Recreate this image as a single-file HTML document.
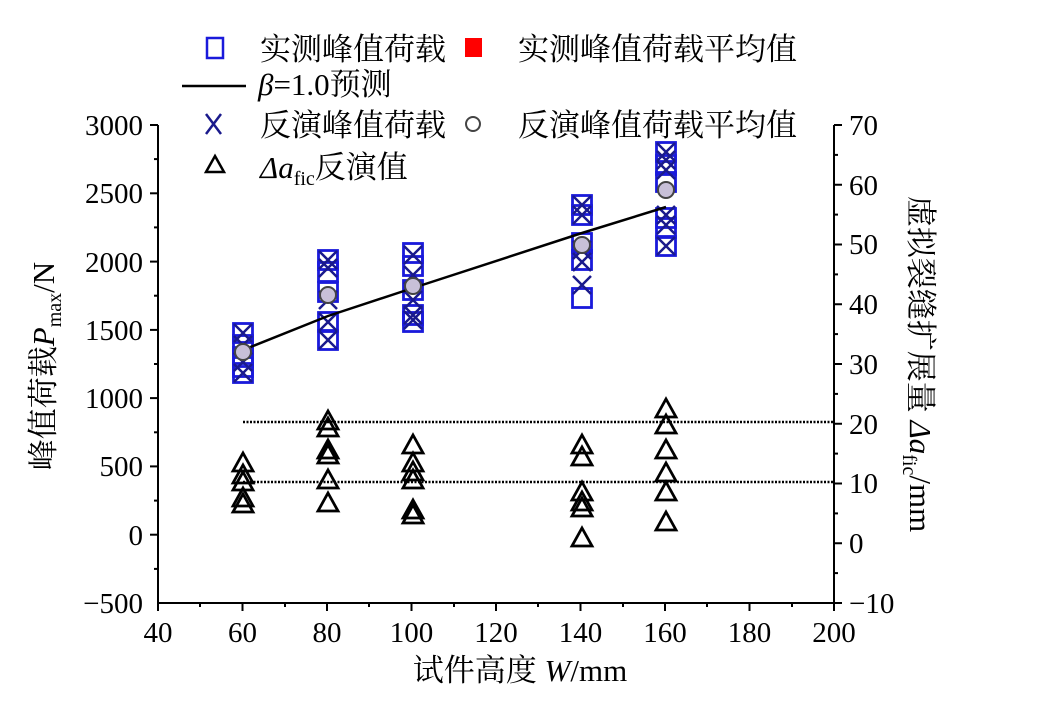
<!DOCTYPE html>
<html><head><meta charset="utf-8"><style>
html,body{margin:0;padding:0;background:#fff;}
svg text{font-family:"Liberation Serif","Noto Serif CJK SC",serif;fill:#000;}
</style></head><body>
<svg width="1043" height="707" viewBox="0 0 1043 707" xmlns="http://www.w3.org/2000/svg">
<defs>
<g id="sq"><rect x="-9.5" y="-9.5" width="19" height="19" fill="none" stroke="#1a1adb" stroke-width="2.8"/></g>
<g id="cr"><path d="M-9,-9L9,9M9,-9L-9,9" stroke="#1a1a8c" stroke-width="2.5"/></g>
<g id="tr"><path d="M0,-10L10,8L-10,8Z" fill="none" stroke="#000" stroke-width="2.8"/></g>
<g id="ci"><circle r="8" fill="#c8c0d8" stroke="#444" stroke-width="2"/></g>
</defs>
<g stroke="#000" stroke-width="2" fill="none">
<line x1="158" y1="125" x2="158" y2="603"/>
<line x1="834" y1="125" x2="834" y2="603"/>
<line x1="157" y1="603" x2="835" y2="603"/>
</g>
<g stroke="#000" stroke-width="2">
<line x1="150" y1="125" x2="158" y2="125"/><line x1="150" y1="193.3" x2="158" y2="193.3"/><line x1="150" y1="261.6" x2="158" y2="261.6"/><line x1="150" y1="329.9" x2="158" y2="329.9"/><line x1="150" y1="398.1" x2="158" y2="398.1"/><line x1="150" y1="466.4" x2="158" y2="466.4"/><line x1="150" y1="534.7" x2="158" y2="534.7"/>
<line x1="154" y1="159.1" x2="158" y2="159.1"/><line x1="154" y1="227.4" x2="158" y2="227.4"/><line x1="154" y1="295.7" x2="158" y2="295.7"/><line x1="154" y1="364" x2="158" y2="364"/><line x1="154" y1="432.3" x2="158" y2="432.3"/><line x1="154" y1="500.6" x2="158" y2="500.6"/><line x1="154" y1="568.9" x2="158" y2="568.9"/>
<line x1="834" y1="125" x2="842" y2="125"/><line x1="834" y1="184.75" x2="842" y2="184.75"/><line x1="834" y1="244.5" x2="842" y2="244.5"/><line x1="834" y1="304.25" x2="842" y2="304.25"/><line x1="834" y1="364" x2="842" y2="364"/><line x1="834" y1="423.75" x2="842" y2="423.75"/><line x1="834" y1="483.5" x2="842" y2="483.5"/><line x1="834" y1="543.25" x2="842" y2="543.25"/><line x1="834" y1="603" x2="842" y2="603"/>
<line x1="834" y1="154.9" x2="838" y2="154.9"/><line x1="834" y1="214.6" x2="838" y2="214.6"/><line x1="834" y1="274.4" x2="838" y2="274.4"/><line x1="834" y1="334.1" x2="838" y2="334.1"/><line x1="834" y1="393.9" x2="838" y2="393.9"/><line x1="834" y1="453.6" x2="838" y2="453.6"/><line x1="834" y1="513.4" x2="838" y2="513.4"/><line x1="834" y1="573.1" x2="838" y2="573.1"/>
<line x1="158" y1="603" x2="158" y2="611"/><line x1="242.5" y1="603" x2="242.5" y2="611"/><line x1="327" y1="603" x2="327" y2="611"/><line x1="411.5" y1="603" x2="411.5" y2="611"/><line x1="496" y1="603" x2="496" y2="611"/><line x1="580.5" y1="603" x2="580.5" y2="611"/><line x1="665" y1="603" x2="665" y2="611"/><line x1="749.5" y1="603" x2="749.5" y2="611"/><line x1="834" y1="603" x2="834" y2="611"/>
<line x1="200" y1="603" x2="200" y2="607"/><line x1="285" y1="603" x2="285" y2="607"/><line x1="369" y1="603" x2="369" y2="607"/><line x1="454" y1="603" x2="454" y2="607"/><line x1="538" y1="603" x2="538" y2="607"/><line x1="623" y1="603" x2="623" y2="607"/><line x1="707" y1="603" x2="707" y2="607"/><line x1="792" y1="603" x2="792" y2="607"/>
</g>
<g font-size="29" text-anchor="end">
<text x="143" y="135">3000</text><text x="143" y="203">2500</text><text x="143" y="272">2000</text><text x="143" y="340">1500</text><text x="143" y="408">1000</text><text x="143" y="476">500</text><text x="143" y="545">0</text><text x="143" y="613">−500</text>
</g>
<g font-size="29" text-anchor="start">
<text x="849" y="135">70</text><text x="849" y="195">60</text><text x="849" y="254">50</text><text x="849" y="314">40</text><text x="849" y="374">30</text><text x="849" y="434">20</text><text x="849" y="493">10</text><text x="849" y="553">0</text><text x="849" y="613">−10</text>
</g>
<g font-size="29" text-anchor="middle">
<text x="158" y="642">40</text><text x="242.5" y="642">60</text><text x="327" y="642">80</text><text x="411.5" y="642">100</text><text x="496" y="642">120</text><text x="580.5" y="642">140</text><text x="665" y="642">160</text><text x="749.5" y="642">180</text><text x="834" y="642">200</text>
</g>
<text x="520" y="681" font-size="31" text-anchor="middle">试件高度 <tspan font-style="italic">W</tspan>/mm</text>
<text transform="translate(54,366) rotate(-90)" font-size="31" text-anchor="middle">峰值荷载<tspan font-style="italic">P</tspan><tspan font-size="20" dy="7">max</tspan><tspan dy="-7">/N</tspan></text>
<text transform="translate(910,364) rotate(90)" font-size="31" text-anchor="middle">虚拟裂缝扩展量 <tspan font-style="italic">Δa</tspan><tspan font-size="20" dy="7">fic</tspan><tspan dy="-7">/mm</tspan></text>
<g stroke="#000" stroke-width="2.5" stroke-dasharray="2,1.5">
<line x1="243" y1="422" x2="834" y2="422"/><line x1="243" y1="482" x2="834" y2="482"/>
</g>
<g>
<use href="#sq" x="243" y="333"/><use href="#sq" x="243" y="345"/><use href="#sq" x="243" y="357"/><use href="#sq" x="243" y="367"/><use href="#sq" x="243" y="373"/>
<use href="#sq" x="328" y="260"/><use href="#sq" x="328" y="272"/><use href="#sq" x="328" y="292"/><use href="#sq" x="328" y="322"/><use href="#sq" x="328" y="340"/>
<use href="#sq" x="413" y="253"/><use href="#sq" x="413" y="266"/><use href="#sq" x="413" y="290"/><use href="#sq" x="413" y="315"/><use href="#sq" x="413" y="322"/>
<use href="#sq" x="582" y="205"/><use href="#sq" x="582" y="215"/><use href="#sq" x="582" y="243"/><use href="#sq" x="582" y="260"/><use href="#sq" x="582" y="298"/>
<use href="#sq" x="666" y="152"/><use href="#sq" x="666" y="165"/><use href="#sq" x="666" y="182"/><use href="#sq" x="666" y="218"/><use href="#sq" x="666" y="228"/><use href="#sq" x="666" y="246"/>
</g>
<g>
<use href="#cr" x="243" y="333"/><use href="#cr" x="243" y="345"/><use href="#cr" x="243" y="362"/><use href="#cr" x="243" y="373"/>
<use href="#cr" x="328" y="260"/><use href="#cr" x="328" y="268"/><use href="#cr" x="328" y="300"/><use href="#cr" x="328" y="322"/><use href="#cr" x="328" y="340"/>
<use href="#cr" x="413" y="255"/><use href="#cr" x="413" y="275"/><use href="#cr" x="413" y="300"/><use href="#cr" x="413" y="315"/><use href="#cr" x="413" y="320"/>
<use href="#cr" x="582" y="205"/><use href="#cr" x="582" y="215"/><use href="#cr" x="582" y="250"/><use href="#cr" x="582" y="262"/><use href="#cr" x="582" y="285"/>
<use href="#cr" x="666" y="152"/><use href="#cr" x="666" y="160"/><use href="#cr" x="666" y="170"/><use href="#cr" x="666" y="215"/><use href="#cr" x="666" y="225"/><use href="#cr" x="666" y="246"/>
</g>
<polyline points="243,350 328,316 413,288 582,233 666,207" fill="none" stroke="#000" stroke-width="2.5"/>
<g>
<use href="#ci" x="243" y="352"/><use href="#ci" x="328" y="295"/><use href="#ci" x="413" y="286"/><use href="#ci" x="582" y="245"/><use href="#ci" x="666" y="190"/>
</g>
<g>
<use href="#tr" x="243" y="463"/><use href="#tr" x="243" y="475"/><use href="#tr" x="243" y="482"/><use href="#tr" x="243" y="498"/><use href="#tr" x="243" y="504"/>
<use href="#tr" x="328" y="421"/><use href="#tr" x="328" y="428"/><use href="#tr" x="328" y="450"/><use href="#tr" x="328" y="455"/><use href="#tr" x="328" y="480"/><use href="#tr" x="328" y="503"/>
<use href="#tr" x="413" y="445"/><use href="#tr" x="413" y="463"/><use href="#tr" x="413" y="472"/><use href="#tr" x="413" y="480"/><use href="#tr" x="413" y="510"/><use href="#tr" x="413" y="515"/>
<use href="#tr" x="582" y="445"/><use href="#tr" x="582" y="457"/><use href="#tr" x="582" y="492"/><use href="#tr" x="582" y="502"/><use href="#tr" x="582" y="508"/><use href="#tr" x="582" y="538"/>
<use href="#tr" x="666" y="409"/><use href="#tr" x="666" y="425"/><use href="#tr" x="666" y="450"/><use href="#tr" x="666" y="473"/><use href="#tr" x="666" y="492"/><use href="#tr" x="666" y="522"/>
</g>
<rect x="207" y="38" width="16" height="20" fill="none" stroke="#1a1adb" stroke-width="2.5"/>
<text x="260" y="60" font-size="31">实测峰值荷载</text>
<rect x="465" y="38" width="17" height="19" fill="#f00"/>
<text x="518" y="60" font-size="31">实测峰值荷载平均值</text>
<line x1="182" y1="86" x2="246" y2="86" stroke="#000" stroke-width="2.5"/>
<text x="258" y="95" font-size="31"><tspan font-style="italic">β</tspan>=1.0预测</text>
<path d="M206,114L221,134M221,114L206,134" stroke="#1a1a8c" stroke-width="2.5"/>
<text x="260" y="136" font-size="31">反演峰值荷载</text>
<circle cx="473" cy="124" r="7" fill="none" stroke="#444" stroke-width="2"/>
<text x="518" y="136" font-size="31">反演峰值荷载平均值</text>
<path d="M215,156L224,172L206,172Z" fill="none" stroke="#000" stroke-width="2.5"/>
<text x="260" y="178" font-size="31"><tspan font-style="italic">Δa</tspan><tspan font-size="20" dy="7">fic</tspan><tspan dy="-7">反演值</tspan></text>
</svg>
</body></html>
